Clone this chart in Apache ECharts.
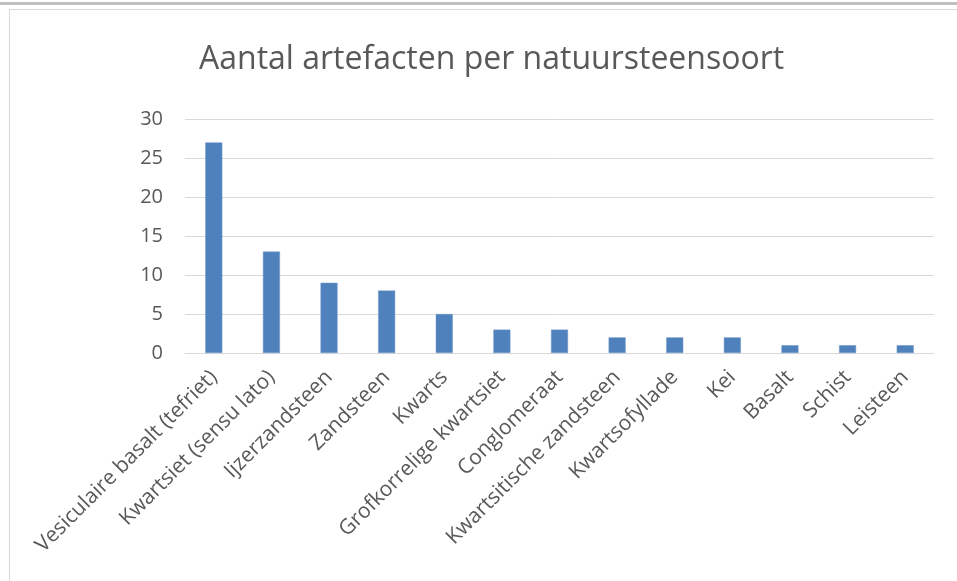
<!DOCTYPE html>
<html>
<head>
<meta charset="utf-8">
<script src="https://cdn.jsdelivr.net/npm/echarts@6/dist/echarts.min.js"></script>
<style>
  html, body { margin: 0; padding: 0; background: #fff; }
  #chart { width: 957px; height: 581px; }
</style>
</head>
<body>
<div id="chart"></div>
<script>
// Stone types and number of artefacts per type
const categories = [
  'Vesiculaire basalt (tefriet)',
  'Kwartsiet (sensu lato)',
  'Ijzerzandsteen',
  'Zandsteen',
  'Kwarts',
  'Grofkorrelige kwartsiet',
  'Conglomeraat',
  'Kwartsitische zandsteen',
  'Kwartsofyllade',
  'Kei',
  'Basalt',
  'Schist',
  'Leisteen'
];
const counts = [27, 13, 9, 8, 5, 3, 3, 2, 2, 2, 1, 1, 1];
const yTicks = { min: 0, max: 30, interval: 5 };

const FONT = '"Open Sans", Lato, sans-serif';
const TEXT = '#595959';

const chart = echarts.init(document.getElementById('chart'), null, { renderer: 'canvas' });
chart.setOption({
  animation: false,
  backgroundColor: '#fff',
  title: {
    text: 'Aantal artefacten per natuursteensoort',
    left: 194,
    top: 39,
    textStyle: { fontFamily: FONT, fontSize: 32, fontWeight: 'normal', color: TEXT }
  },
  grid: { left: 185, right: 23, top: 119, bottom: 228, containLabel: false },
  xAxis: {
    type: 'category',
    data: categories,
    axisLine: { lineStyle: { color: '#d9d9d9', width: 1 } },
    axisTick: { show: false },
    axisLabel: {
      interval: 0,
      rotate: 45,
      margin: 21,
      fontFamily: FONT,
      fontSize: 21,
      color: TEXT
    }
  },
  yAxis: {
    type: 'value',
    min: yTicks.min,
    max: yTicks.max,
    interval: yTicks.interval,
    axisLine: { show: false },
    axisTick: { show: false },
    splitLine: { lineStyle: { color: '#d9d9d9', width: 1 } },
    axisLabel: { fontFamily: FONT, fontSize: 20, color: TEXT, margin: 22 }
  },
  series: [{
    type: 'bar',
    data: counts,
    barWidth: 17,
    itemStyle: { color: '#4f81bd', borderColor: '#6f97c9', borderWidth: 0.5 }
  }],
  graphic: [
    { type: 'rect', shape: { x: 0, y: 2, width: 957, height: 3 }, style: { fill: '#bfbfbf' } },
    { type: 'line', shape: { x1: 9, y1: 9.5, x2: 957, y2: 9.5 }, style: { stroke: '#d9d9d9', lineWidth: 1 } },
    { type: 'line', shape: { x1: 9.5, y1: 9, x2: 9.5, y2: 581 }, style: { stroke: '#d9d9d9', lineWidth: 1 } }
  ]
});
</script>
</body>
</html>
